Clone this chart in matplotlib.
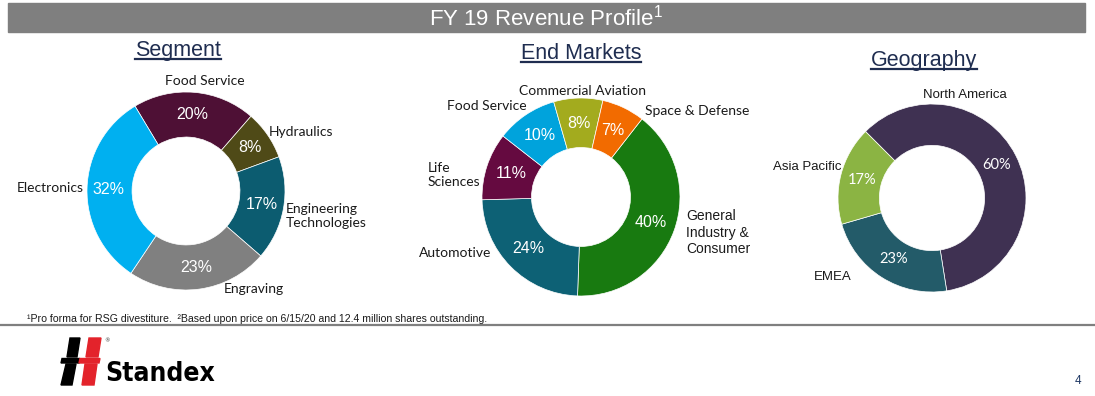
import matplotlib
matplotlib.use('Agg')
import matplotlib.pyplot as plt
from matplotlib.patches import Rectangle, Polygon
from matplotlib.lines import Line2D

# revenue shares (%)
seg_labels = ['Food Service', 'Hydraulics', 'Engineering\nTechnologies',
              'Engraving', 'Electronics']
seg_values = [20, 8, 17, 23, 32]
seg_colors = ['#4E1035', '#4F4A17', '#0C5C70', '#808080', '#00B0F0']

end_labels = ['General\nIndustry &\nConsumer', 'Automotive', 'Life\nSciences',
              'Food Service', 'Commercial Aviation', 'Space & Defense']
end_values = [40, 24, 11, 10, 8, 7]
end_colors = ['#187A10', '#0D6175', '#650A40', '#00A3DC', '#A3AB1E', '#F26B00']

geo_labels = ['North America', 'EMEA', 'Asia Pacific']
geo_values = [60, 23, 17]
geo_colors = ['#3F3152', '#235B69', '#8BB443']

W, H = 1095, 396
fig = plt.figure(figsize=(W / 100, H / 100), dpi=100)
bg = fig.add_axes([0, 0, 1, 1])
bg.set_xlim(0, W)
bg.set_ylim(H, 0)
bg.axis('off')

# header bar
bg.add_patch(Rectangle((8, 3), 1077, 29, color='#7F7F7F'))
bg.text(546, 18, r'FY 19 Revenue Profile$^{\mathregular{1}}$', color='white',
        fontsize=16, family='Liberation Sans', ha='center', va='center')

navy = '#1F2D50'
subtitles = [('Segment', 178, 56), ('End Markets', 581, 59), ('Geography', 924, 66)]
sub_texts = []
for name, x, y in subtitles:
    t = bg.text(x, y, name, fontsize=15.5, family='Liberation Sans', color=navy,
                ha='center', va='baseline')
    sub_texts.append((t, y))


def donut(cx, cy, r, values, colors, labels, start, width, pctdist,
          label_pos, pct_family, pct_size, lab_families, lab_size):
    ax = fig.add_axes([(cx - r) / W, (H - cy - r) / H, 2 * r / W, 2 * r / H])
    wedges, _, autotexts = ax.pie(
        values, colors=colors, startangle=start, counterclock=False,
        radius=1, autopct='%.0f%%', pctdistance=pctdist,
        wedgeprops=dict(width=width, edgecolor='white', linewidth=0.5),
        textprops=dict(color='white', fontsize=pct_size, family=pct_family))
    ax.set_xlim(-1, 1)
    ax.set_ylim(-1, 1)
    for lab, (x, y, ha), fam in zip(labels, label_pos, lab_families):
        ax.text(x, y, lab, ha=ha, va='center', fontsize=lab_size, family=fam,
                color='#1A1A1A', linespacing=1.2, clip_on=False)
    return ax


# label positions in units of the outer radius
seg_pos = [(0.19, 1.11, 'center'), (0.84, 0.60, 'left'), (1.01, -0.25, 'left'),
           (0.68, -0.99, 'center'), (-1.03, 0.03, 'right')]
end_pos = [(1.06, -0.36, 'left'), (-1.27, -0.57, 'center'), (-1.55, 0.22, 'left'),
           (-0.95, 0.92, 'center'), (0.02, 1.07, 'center'), (0.65, 0.87, 'left')]
geo_pos = [(0.35, 1.10, 'center'), (-1.06, -0.84, 'center'), (-1.33, 0.33, 'center')]

donut(186, 191, 99, seg_values, seg_colors, seg_labels, 121, 0.455, 0.78,
      seg_pos, 'Liberation Sans', 11.5, ['Lato'] * 5, 10)
donut(581, 197, 99, end_values, end_colors, end_labels, 52, 0.5, 0.745,
      end_pos, 'Liberation Sans', 11.5,
      ['Liberation Sans'] + ['Lato'] * 5, 10)
donut(932, 198, 94, geo_values, geo_colors, geo_labels, 135, 0.44, 0.77,
      geo_pos, 'Lato', 10.5, ['Liberation Sans'] * 3, 9.5)

# underline the subtitles
fig.canvas.draw()
inv = bg.transData.inverted()
for t, y in sub_texts:
    bb = t.get_window_extent()
    x0 = inv.transform((bb.x0, 0))[0]
    x1 = inv.transform((bb.x1, 0))[0]
    bg.add_line(Line2D([x0, x1], [y + 2.5, y + 2.5], color=navy, lw=1.6))

# footnote and rule
bg.text(27, 319, '\u00b9Pro forma for RSG divestiture.  \u00b2Based upon price on 6/15/20 '
        'and 12.4 million shares outstanding.', fontsize=7.6, family='Liberation Sans',
        color='#1A1A1A', va='center')
bg.add_line(Line2D([0, W], [324.5, 324.5], color='#7F7F7F', lw=1.6))

# Standex logo
bg.add_patch(Polygon([(70, 338), (80, 338), (77, 357), (67, 357)], color='black'))
bg.add_patch(Polygon([(66, 364), (76, 364), (72, 385), (61, 385)], color='black'))
bg.add_patch(Polygon([(89, 338), (101, 338), (98, 357), (86, 357)], color='#E3232B'))
bg.add_patch(Polygon([(85, 364), (97, 364), (94, 385), (82, 385)], color='#E3232B'))
bg.add_patch(Polygon([(62, 358.5), (80, 358.5), (79, 363), (61, 363)], color='black'))
bg.add_patch(Polygon([(80, 358.5), (100, 358.5), (99, 363), (79, 363)], color='#E3232B'))
bg.text(105, 381, 'Standex', fontsize=19, fontweight='bold', fontstretch='condensed',
        family='DejaVu Sans', color='black', va='baseline', ha='left')
bg.text(104, 341, '\u00ae', fontsize=4, color='#333333', va='center')

bg.text(1078, 381, '4', fontsize=8.5, family='Liberation Sans', color='#1F3864',
        ha='center', va='center')

fig.savefig('out.png', dpi=100)
